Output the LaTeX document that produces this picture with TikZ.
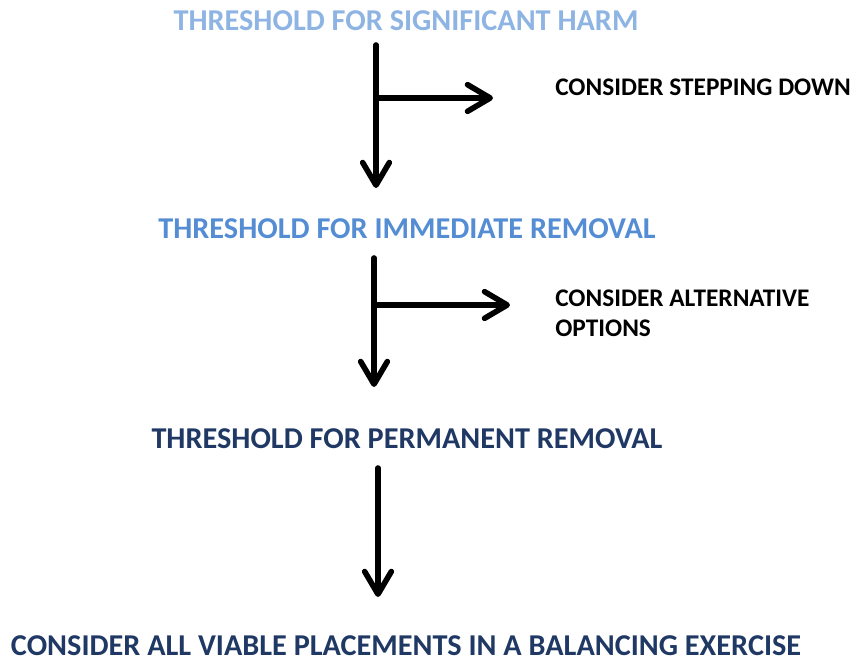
\documentclass[tikz,border=0pt]{standalone}
\usepackage{fontspec}
\setmainfont{Carlito}
\usetikzlibrary{arrows.meta}
\definecolor{lightblu}{RGB}{142,180,227}
\definecolor{midblu}{RGB}{84,141,212}
\definecolor{navyblu}{RGB}{31,56,100}
\begin{document}
\begin{tikzpicture}[x=0.75pt, y=-0.75pt, line cap=round, line join=round,
    >={Straight Barb[length=17pt, width=20pt, round]},
    title/.style={font=\fontsize{22.7}{27}\selectfont\bfseries, inner sep=0pt, anchor=base},
    aside/.style={font=\fontsize{19}{22.5}\selectfont\bfseries, inner sep=0pt, align=left, anchor=west},
    flow/.style={line width=4.2pt, ->}]
    \useasboundingbox (0,0) rectangle (859,659);
    % thresholds
    \node[title, text=lightblu] (sigharm) at (406,31) {THRESHOLD FOR SIGNIFICANT HARM};
    \node[title, text=midblu] (immrem) at (407,238.5) {THRESHOLD FOR IMMEDIATE REMOVAL};
    \node[title, text=navyblu] (permrem) at (407,448.5) {THRESHOLD FOR PERMANENT REMOVAL};
    \node[title, text=navyblu] (viable) at (406,655.5) {CONSIDER ALL VIABLE PLACEMENTS IN A BALANCING EXERCISE};
    % side notes
    \node[aside, anchor=base west] (stepdown) at (555,96) {CONSIDER STEPPING DOWN};
    \node[aside] (altopt) at (555,313) {CONSIDER ALTERNATIVE\\OPTIONS};
    % down arrows
    \foreach \n/\xa/\ya/\yb in {1/376/45/188, 2/374/258/387, 3/378/468/597} {
        \coordinate (s\n) at (\xa,\ya);
        \coordinate (e\n) at (\xa,\yb);
        \draw[flow] (s\n) -- (e\n);
    }
    % side arrows
    \foreach \n/\xa/\y/\xb in {1/376/98/493, 2/374/305/510} {
        \coordinate (b\n) at (\xa,\y);
        \coordinate (t\n) at (\xb,\y);
        \draw[flow] (b\n) -- (t\n);
    }
\end{tikzpicture}
\end{document}
